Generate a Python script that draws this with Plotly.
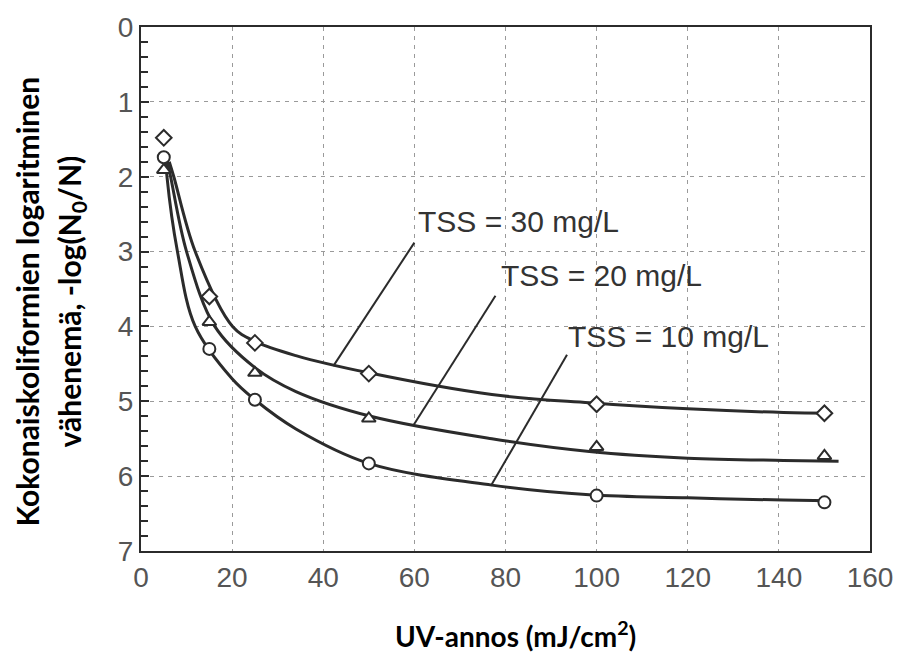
import plotly.graph_objects as go

# Measured data points (UV dose vs log reduction)
dose = [5, 15, 25, 50, 100, 150]
tss30_pts = [1.48, 3.60, 4.22, 4.63, 5.04, 5.16]
tss20_pts = [1.91, 3.94, 4.62, 5.23, 5.61, 5.73]
tss10_pts = [1.74, 4.30, 4.98, 5.83, 6.26, 6.35]

# Fitted curves
c30_x = [6.2, 7.2, 11.9, 20.1, 25, 34, 50, 77, 98.4, 120, 141, 151.6]
c30_y = [1.80, 2.0, 3.0, 4.0, 4.20, 4.39, 4.62, 4.91, 5.02, 5.10, 5.15, 5.16]
c20_x = [5.8, 6.5, 10.0, 16.2, 25, 34, 50.4, 77, 98.4, 120, 141, 153.1]
c20_y = [1.80, 2.0, 3.0, 4.0, 4.55, 4.87, 5.20, 5.50, 5.67, 5.76, 5.79, 5.80]
c10_x = [5.5, 5.7, 8.0, 11.9, 20, 25, 34, 50, 77, 98.4, 120, 141, 151]
c10_y = [1.80, 2.0, 3.0, 4.0, 4.70, 4.98, 5.37, 5.83, 6.12, 6.25, 6.29, 6.32, 6.33]

labels = ["TSS = 30 mg/L", "TSS = 20 mg/L", "TSS = 10 mg/L"]
label_x = [60.4, 78.6, 93.2]
label_y = [2.60, 3.32, 4.14]
leader_x0 = [60.0, 77.8, 93.5]
leader_y0 = [2.88, 3.59, 4.38]
leader_x1 = [42.2, 59.8, 76.8]
leader_y1 = [4.53, 5.32, 6.13]

x_ticks = [0, 20, 40, 60, 80, 100, 120, 140, 160]
y_ticks = [0, 1, 2, 3, 4, 5, 6, 7]

LINE = "#2b2b2b"
W, H = 905, 653
ML, MR, MT, MB = 141, 18, 19, 102
pw = W - ML - MR
ph = H - MT - MB

fig = go.Figure()

for cx, cy in [(c30_x, c30_y), (c20_x, c20_y), (c10_x, c10_y)]:
    fig.add_trace(go.Scatter(x=cx, y=cy, mode="lines",
                             line=dict(color=LINE, width=3, shape="spline", smoothing=1.0),
                             showlegend=False, hoverinfo="skip"))

for ys, sym in [(tss30_pts, "diamond"), (tss20_pts, "triangle-up"), (tss10_pts, "circle")]:
    fig.add_trace(go.Scatter(x=dose, y=ys, mode="markers",
                             marker=dict(symbol=sym, size=12, color="white",
                                         line=dict(color=LINE, width=2)),
                             showlegend=False))

for i in range(3):
    fig.add_shape(type="line", x0=leader_x0[i], y0=leader_y0[i], x1=leader_x1[i], y1=leader_y1[i],
                  xref="x", yref="y", line=dict(color=LINE, width=2))
    fig.add_annotation(x=label_x[i], y=label_y[i], text=labels[i], showarrow=False,
                       xanchor="left", yanchor="middle", xref="x", yref="y",
                       font=dict(family="Liberation Sans", size=30, color="#333333"))

fig.update_xaxes(range=[0, 160], tickvals=x_ticks, ticktext=[str(v) for v in x_ticks],
                 showgrid=True, gridcolor="#9a9a9a", griddash="4px,5px", gridwidth=1,
                 showline=True, linecolor=LINE, linewidth=2, mirror=True,
                 ticks="", zeroline=False, ticklabeloverflow="allow",
                 tickfont=dict(family="Liberation Sans", size=28, color="#555555"))
fig.update_yaxes(range=[7, 0], tickvals=y_ticks, ticktext=[str(v) for v in y_ticks],
                 showgrid=True, gridcolor="#9a9a9a", griddash="4px,5px", gridwidth=1,
                 showline=True, linecolor=LINE, linewidth=2, mirror=True,
                 ticks="inside", ticklen=8, tickcolor=LINE, tickwidth=1.5,
                 minor=dict(dtick=0.2, ticks="inside", ticklen=7, tickcolor=LINE, tickwidth=1.5, showgrid=False),
                 zeroline=False,
                 tickfont=dict(family="Liberation Sans", size=28, color="#555555"))

def px_x(p):
    return (p - ML) / pw

def px_y(p):
    return (H - MB - p) / ph

fig.add_annotation(x=px_x(24), y=px_y(298), xref="paper", yref="paper", xanchor="center", yanchor="middle",
                   text="<b>Kokonaiskoliformien logaritminen</b>", showarrow=False, textangle=-90,
                   font=dict(family="Lato", size=30, color="black"))
fig.add_annotation(x=px_x(69), y=px_y(298), xref="paper", yref="paper", xanchor="center", yanchor="middle",
                   text="<b>vähenemä, -log(N<sub>0</sub>/N)</b>", showarrow=False, textangle=-90,
                   font=dict(family="Lato", size=30, color="black"))
fig.add_annotation(x=px_x(524), y=px_y(615), xref="paper", yref="paper", xanchor="center", yanchor="top",
                   text="<b>UV-annos (mJ/cm<sup>2</sup>)</b>", showarrow=False,
                   font=dict(family="Lato", size=28, color="black"))

fig.update_layout(width=W, height=H, margin=dict(l=ML, r=MR, t=MT, b=MB),
                  plot_bgcolor="white", paper_bgcolor="white")

fig.write_html("out.html")
